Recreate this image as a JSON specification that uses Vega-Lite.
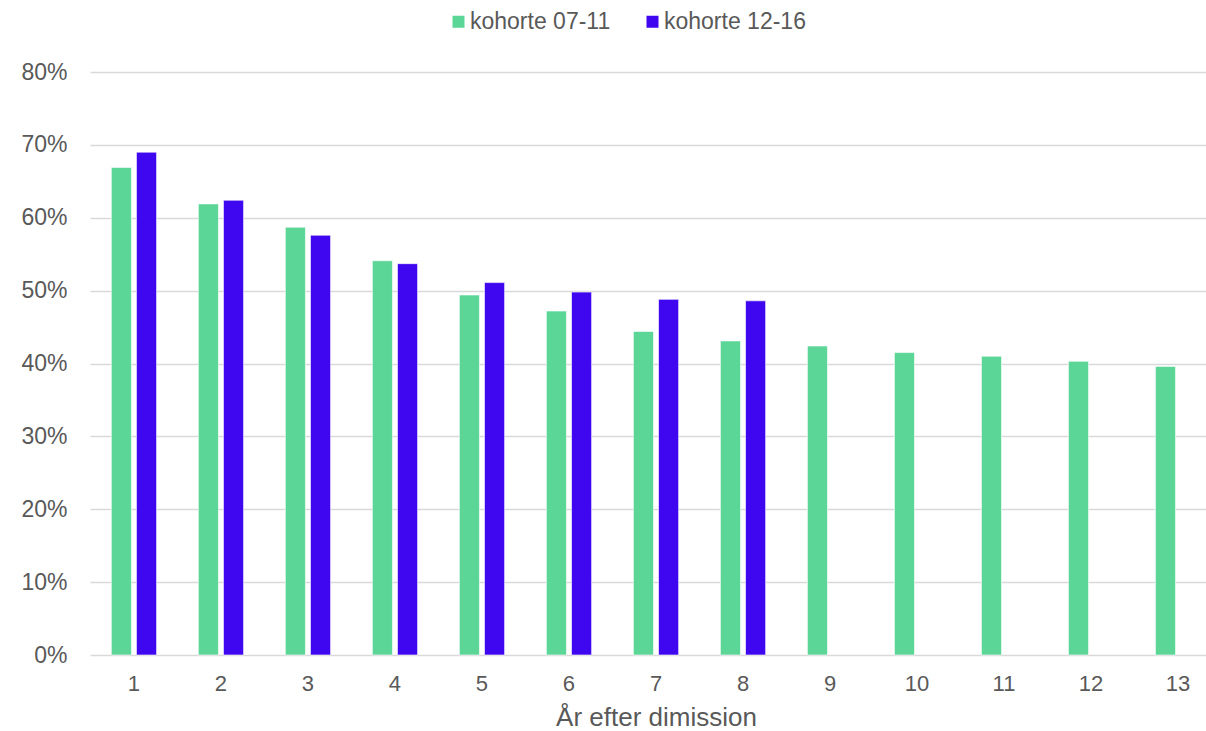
{
  "$schema": "https://vega.github.io/schema/vega-lite/v6.json",
  "autosize": "none",
  "width": 1116,
  "height": 583,
  "padding": {"left": 90, "top": 72, "right": 0, "bottom": 76},
  "background": "white",
  "data": {
    "values": [
      {"aar": 1, "kohorte": "kohorte 07-11", "andel": 0.669},
      {"aar": 1, "kohorte": "kohorte 12-16", "andel": 0.690},
      {"aar": 2, "kohorte": "kohorte 07-11", "andel": 0.619},
      {"aar": 2, "kohorte": "kohorte 12-16", "andel": 0.624},
      {"aar": 3, "kohorte": "kohorte 07-11", "andel": 0.587},
      {"aar": 3, "kohorte": "kohorte 12-16", "andel": 0.576},
      {"aar": 4, "kohorte": "kohorte 07-11", "andel": 0.541},
      {"aar": 4, "kohorte": "kohorte 12-16", "andel": 0.537},
      {"aar": 5, "kohorte": "kohorte 07-11", "andel": 0.494},
      {"aar": 5, "kohorte": "kohorte 12-16", "andel": 0.511},
      {"aar": 6, "kohorte": "kohorte 07-11", "andel": 0.472},
      {"aar": 6, "kohorte": "kohorte 12-16", "andel": 0.498},
      {"aar": 7, "kohorte": "kohorte 07-11", "andel": 0.444},
      {"aar": 7, "kohorte": "kohorte 12-16", "andel": 0.488},
      {"aar": 8, "kohorte": "kohorte 07-11", "andel": 0.431},
      {"aar": 8, "kohorte": "kohorte 12-16", "andel": 0.486},
      {"aar": 9, "kohorte": "kohorte 07-11", "andel": 0.424},
      {"aar": 10, "kohorte": "kohorte 07-11", "andel": 0.415},
      {"aar": 11, "kohorte": "kohorte 07-11", "andel": 0.410},
      {"aar": 12, "kohorte": "kohorte 07-11", "andel": 0.403},
      {"aar": 13, "kohorte": "kohorte 07-11", "andel": 0.396}
    ]
  },
  "mark": {"type": "bar", "stroke": "#ffffff", "strokeWidth": 1, "strokeOpacity": 0.6},
  "encoding": {
    "x": {
      "field": "aar",
      "type": "ordinal",
      "scale": {"range": [0, 1132], "paddingInner": 0.48, "paddingOuter": 0.245},
      "axis": {
        "title": "År efter dimission",
        "labelAngle": 0,
        "domain": false,
        "ticks": false,
        "labelFont": "Liberation Sans",
        "labelFontSize": 22,
        "labelColor": "#595959",
        "labelPadding": 18,
        "titleFont": "Liberation Sans",
        "titleFontSize": 26,
        "titleFontWeight": "normal",
        "titleColor": "#595959",
        "titlePadding": 10
      }
    },
    "xOffset": {
      "field": "kohorte",
      "type": "nominal",
      "scale": {"paddingInner": 0.2}
    },
    "y": {
      "field": "andel",
      "type": "quantitative",
      "scale": {"domain": [0, 0.8]},
      "axis": {
        "title": null,
        "format": ".0%",
        "values": [0, 0.1, 0.2, 0.3, 0.4, 0.5, 0.6, 0.7, 0.8],
        "domain": false,
        "ticks": false,
        "grid": true,
        "gridColor": "#d9d9d9",
        "gridWidth": 1.5,
        "labelFont": "Liberation Sans",
        "labelFontSize": 23,
        "labelColor": "#595959",
        "labelPadding": 23
      }
    },
    "color": {
      "field": "kohorte",
      "type": "nominal",
      "scale": {"domain": ["kohorte 07-11", "kohorte 12-16"], "range": ["#5bd697", "#3e07ef"]},
      "legend": {
        "title": null,
        "orient": "none",
        "direction": "horizontal",
        "columns": 2,
        "legendX": 357,
        "legendY": -62,
        "symbolType": "square",
        "symbolSize": 144,
        "symbolStrokeWidth": 0,
        "labelFont": "Liberation Sans",
        "labelFontSize": 23,
        "labelColor": "#595959",
        "labelOffset": 0,
        "columnPadding": 30
      }
    }
  },
  "config": {"view": {"stroke": null}}
}
